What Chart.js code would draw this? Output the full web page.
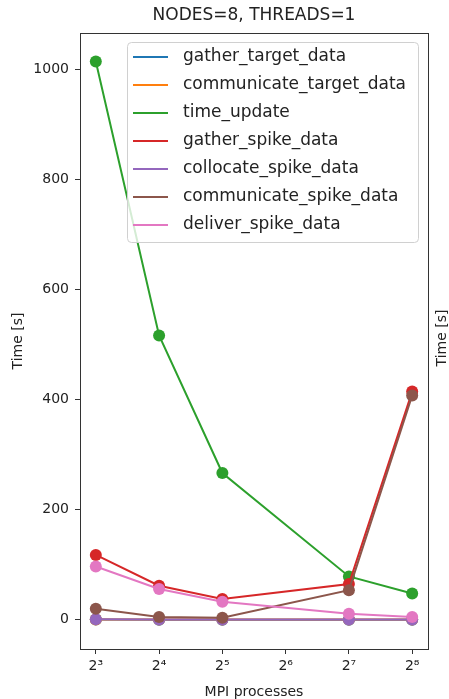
<!DOCTYPE html>
<html>
<head>
<meta charset="utf-8">
<title>NODES=8, THREADS=1</title>
<script src="https://cdn.jsdelivr.net/npm/chart.js@4.4.1/dist/chart.umd.min.js"></script>
<style>
body { margin: 0; background: #fff; }
#box { width: 449px; height: 699px; position: relative; }
</style>
</head>
<body>
<div id="box"><canvas id="chart"></canvas></div>
<script>
// ----------------------------------------------------------------------
//  timers per MPI process count
// ----------------------------------------------------------------------
const processes = [8, 16, 32, 128, 256]

const gatherTargetData      = [0.5, 0.3, 0.3, 0.3, 0.3]
const communicateTargetData = [0.8, 0.5, 0.5, 0.5, 0.5]
const timeUpdate            = [1015, 517, 267, 79, 48]
const gatherSpikeData       = [118, 62, 38, 65, 415]
const collocateSpikeData    = [1, 0.5, 0.5, 0.5, 0.5]
const communicateSpikeData  = [20, 5, 4, 54, 408]
const deliverSpikeData      = [97, 56, 33, 11, 5]

const seriesNames = ["gather_target_data", "communicate_target_data", "time_update",
    "gather_spike_data", "collocate_spike_data", "communicate_spike_data", "deliver_spike_data"]
const seriesValues = [gatherTargetData, communicateTargetData, timeUpdate,
    gatherSpikeData, collocateSpikeData, communicateSpikeData, deliverSpikeData]
const seriesColors = ["#1f77b4", "#ff7f0e", "#2ca02c", "#d62728", "#9467bd", "#8c564b", "#e377c2"]

const xTickValues = [8, 16, 32, 64, 128, 256]
const xTickLabels = ["2³", "2⁴", "2⁵", "2⁶", "2⁷", "2⁸"]
const yTickValues = [0, 200, 400, 600, 800, 1000]

// ----------------------------------------------------------------------
const FONT = "'DejaVu Sans', sans-serif"
const INK = "#222"

// frame, legend inside the axes, and the cut-off label of the next panel
const decorations = {
    id: "decorations",
    afterDatasetsDraw (chart) {
        const ctx = chart.ctx
        const a = chart.chartArea
        ctx.save()
        ctx.strokeStyle = "#333"
        ctx.lineWidth = 1
        ctx.strokeRect(Math.round(a.left) + 0.5, Math.round(a.top) + 0.5,
            Math.round(a.right - a.left), Math.round(a.bottom - a.top))
        ctx.restore()
    },
    afterDraw (chart) {
        const ctx = chart.ctx
        ctx.save()
        // legend box
        const bx = 127, by = 42, bw = 291, bh = 200, r = 4
        ctx.beginPath()
        ctx.roundRect(bx + 0.5, by + 0.5, bw, bh, r)
        ctx.fillStyle = "rgba(255,255,255,0.8)"
        ctx.fill()
        ctx.strokeStyle = "#d0d0d0"
        ctx.lineWidth = 1
        ctx.stroke()

        ctx.font = "17px " + FONT
        ctx.textBaseline = "middle"
        chart.data.datasets.forEach((ds, i) => {
            const y = 57 + i * 28
            ctx.strokeStyle = ds.borderColor
            ctx.lineWidth = 2
            ctx.beginPath()
            ctx.moveTo(133, y)
            ctx.lineTo(168, y)
            ctx.stroke()
            ctx.fillStyle = INK
            ctx.fillText(ds.label, 183, y)
        })

        // neighbouring subplot's y label, clipped by the page edge
        ctx.translate(442, 338)
        ctx.rotate(-Math.PI / 2)
        ctx.font = "14px " + FONT
        ctx.textAlign = "center"
        ctx.fillStyle = INK
        ctx.fillText("Time [s]", 0, 0)
        ctx.restore()
    }
}

// ----------------------------------------------------------------------
const datasets = seriesNames.map((name, i) => ({
    label: name,
    data: processes.map((p, k) => ({x: p, y: seriesValues[i][k]})),
    borderColor: seriesColors[i],
    backgroundColor: seriesColors[i],
    pointBackgroundColor: seriesColors[i],
    borderWidth: 2,
    pointRadius: 6,
    pointHoverRadius: 6,
    pointBorderWidth: 0,
    tension: 0,
    order: -i
}))

const config = {
    type: "line",
    data: { datasets: datasets },
    plugins: [decorations],
    options: {
        responsive: true,
        maintainAspectRatio: false,
        animation: false,
        events: [],
        layout: { padding: { left: 0, right: 21, top: 0, bottom: 0 } },
        plugins: {
            legend: { display: false },
            tooltip: { enabled: false },
            title: {
                display: true,
                text: "NODES=8, THREADS=1",
                fullSize: false,
                color: INK,
                font: { family: FONT, size: 17, weight: "normal" },
                padding: { top: 5, bottom: 7.6 }
            }
        },
        scales: {
            x: {
                type: "logarithmic",
                min: Math.pow(2, 2.75),
                max: Math.pow(2, 8.25),
                bounds: "data",
                afterFit: (s) => { s.height = 50 },
                afterBuildTicks: (s) => { s.ticks = xTickValues.map(v => ({value: v})) },
                grid: { drawOnChartArea: false, tickLength: 5, tickColor: "#333", tickWidth: 1 },
                border: { display: false },
                ticks: {
                    padding: 4, color: INK, autoSkip: false, maxRotation: 0,
                    font: { family: FONT, size: 14 },
                    callback: (v, i) => xTickLabels[i]
                },
                title: {
                    display: true, text: "MPI processes", color: INK,
                    font: { family: FONT, size: 14, lineHeight: 1 },
                    padding: { top: 0, bottom: 0 }
                }
            },
            y: {
                type: "linear",
                min: -53,
                max: 1067,
                bounds: "data",
                afterFit: (s) => { s.width = 80 },
                afterBuildTicks: (s) => { s.ticks = yTickValues.map(v => ({value: v})) },
                grid: { drawOnChartArea: false, tickLength: 5, tickColor: "#333", tickWidth: 1 },
                border: { display: false },
                ticks: {
                    padding: 6, color: INK,
                    font: { family: FONT, size: 14 },
                    callback: (v) => String(v)
                },
                title: {
                    display: true, text: "Time [s]", color: INK,
                    font: { family: FONT, size: 14 },
                    padding: { top: 10, bottom: 0 }
                }
            }
        }
    }
}

const chart = new Chart(document.getElementById("chart"), config)
// ----------------------------------------------------------------------
</script>
</body>
</html>
